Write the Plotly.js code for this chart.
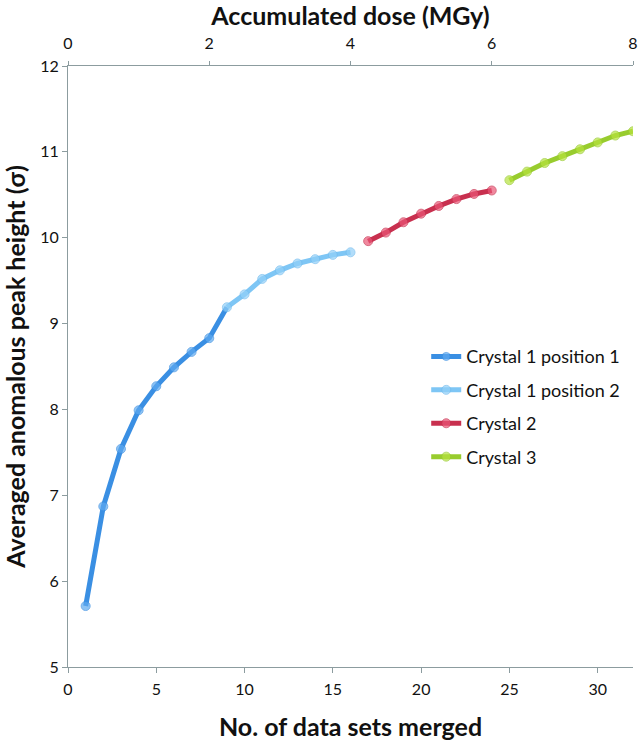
<!DOCTYPE html>
<html>
<head>
<meta charset="utf-8">
<script src="https://cdn.plot.ly/plotly-3.0.1.min.js"></script>
<style>html,body{margin:0;padding:0;background:#fff;}#chart{width:640px;height:741px;}</style>
</head>
<body>
<div id="chart"></div>
<script>
// Data
const seriesNames = ["Crystal 1 position 1", "Crystal 1 position 2", "Crystal 2", "Crystal 3"];
const c1p1X = [1, 2, 3, 4, 5, 6, 7, 8, 9];
const c1p1Y = [5.71, 6.87, 7.54, 7.99, 8.27, 8.49, 8.67, 8.83, 9.19];
const c1p2X = [9, 10, 11, 12, 13, 14, 15, 16];
const c1p2Y = [9.19, 9.34, 9.52, 9.62, 9.70, 9.75, 9.80, 9.83];
const c2X = [17, 18, 19, 20, 21, 22, 23, 24];
const c2Y = [9.96, 10.06, 10.18, 10.28, 10.37, 10.45, 10.51, 10.55];
const c3X = [25, 26, 27, 28, 29, 30, 31, 32];
const c3Y = [10.67, 10.77, 10.87, 10.95, 11.03, 11.11, 11.19, 11.24];
const doseTicks = [0, 2, 4, 6, 8];

const FONT = "Lato, 'Open Sans', sans-serif";
function mk(name, x, y, lineColor, markerColor, markerLine, lastMarkerHidden) {
  const sizes = x.map((v, i) => (lastMarkerHidden && i === x.length - 1) ? 0 : 9);
  return {
    type: 'scatter', mode: 'lines+markers', name: name, x: x, y: y, legendgroup: name,
    line: {color: lineColor, width: 5},
    marker: {color: markerColor, size: sizes, line: {color: markerLine, width: 1}},
    xaxis: 'x', yaxis: 'y'
  };
}
const traces = [
  mk(seriesNames[0], c1p1X, c1p1Y, '#3a8fe3', '#5eaaf0', '#3a8fe3', true),
  mk(seriesNames[1], c1p2X, c1p2Y, '#7ec6f5', '#92d0f8', '#74bdf0', false),
  mk(seriesNames[2], c2X, c2Y, '#c8304f', '#ea5676', '#c8304f', false),
  mk(seriesNames[3], c3X, c3Y, '#98cc2e', '#b6e23e', '#98cc2e', false)
];

const axisCol = '#8c9c9f';
const layout = {
  width: 640, height: 741,
  margin: {l: 68, r: 7, t: 66, b: 74},
  paper_bgcolor: '#fff', plot_bgcolor: '#fff',
  font: {family: FONT, color: '#111', size: 15},
  showlegend: true,
  legend: {x: 0.634, y: 0.547, xanchor: 'left', yanchor: 'top', bgcolor: 'rgba(0,0,0,0)',
           font: {family: FONT, size: 18, color: '#111'}, tracegroupgap: 7, itemwidth: 30},
  xaxis: {
    range: [0, 32], dtick: 5, tick0: 0, showgrid: false, zeroline: false,
    showline: true, linecolor: axisCol, linewidth: 1,
    ticks: 'outside', ticklen: 5, tickcolor: axisCol, ticklabelstandoff: 3,
    tickfont: {family: FONT, size: 16, color: '#111'},
    title: {text: '<b>No. of data sets merged</b>', font: {family: FONT, size: 25, color: '#111'}, standoff: 21}
  },
  xaxis2: {
    overlaying: 'x', side: 'top', range: [0, 8], tickvals: doseTicks, ticktext: doseTicks.map(String),
    showgrid: false, zeroline: false, showline: true, linecolor: axisCol, linewidth: 1,
    ticks: 'outside', ticklen: 4, tickcolor: axisCol, ticklabelstandoff: 6,
    tickfont: {family: FONT, size: 16, color: '#111'},
    title: {text: '<b>Accumulated dose (MGy)</b>', font: {family: FONT, size: 25, color: '#111'}, standoff: 0}
  },
  yaxis: {
    range: [5, 12], dtick: 1, showgrid: false, zeroline: false,
    showline: true, linecolor: axisCol, linewidth: 1,
    ticks: 'outside', ticklen: 5, tickcolor: axisCol,
    tickfont: {family: FONT, size: 16, color: '#111'},
    title: {text: '<b>Averaged anomalous peak height (σ)</b>', font: {family: FONT, size: 25, color: '#111'}, standoff: 10}
  }
};
traces.push({type: 'scatter', x: doseTicks, y: doseTicks.map(() => null), xaxis: 'x2', yaxis: 'y', showlegend: false, hoverinfo: 'skip', mode: 'markers'});
Plotly.newPlot('chart', traces, layout, {displayModeBar: false, staticPlot: true});
</script>
</body>
</html>
